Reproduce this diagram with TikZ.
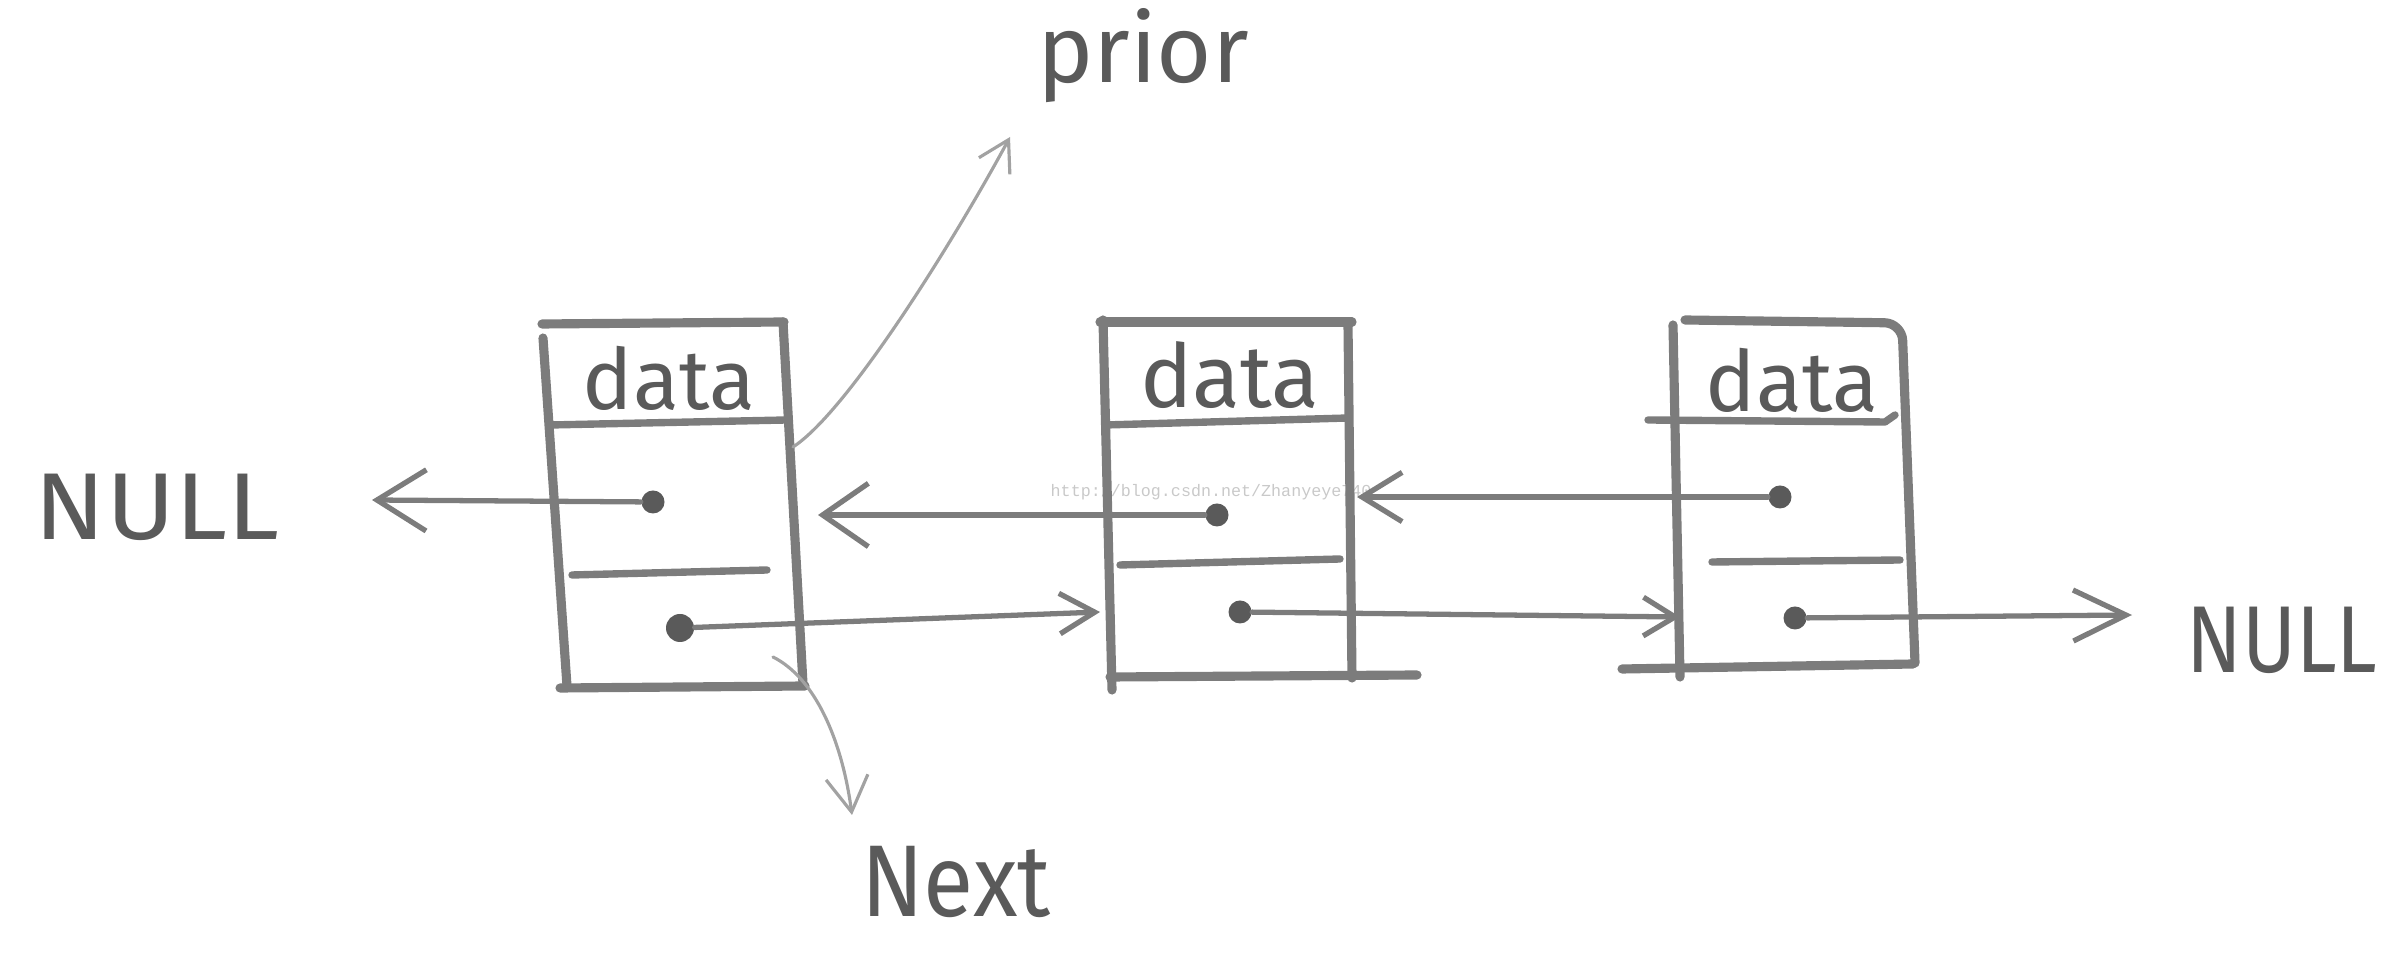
\documentclass[tikz,border=0pt]{standalone}
\usepackage{fontspec}
\setmainfont{Fira Sans}
\setmonofont{Liberation Mono}
\usetikzlibrary{arrows.meta}
\definecolor{pencil}{HTML}{7C7C7C}
\definecolor{pencildark}{HTML}{5A5A5A}
\definecolor{pencillight}{HTML}{A2A2A2}
\definecolor{wm}{HTML}{C9C9C9}
\begin{document}
\begin{tikzpicture}[x=0.01cm,y=-0.01cm,
  boxline/.style={pencil, line width=2.6pt, line cap=round, line join=round},
  divline/.style={pencil, line width=2.1pt, line cap=round, line join=round},
  dot/.style={circle, fill=pencildark, inner sep=0pt, minimum size=0.23cm},
  bigdot/.style={dot, minimum size=0.28cm},
  link/.style={pencil, line width=1.5pt, line cap=round, line join=round},
  thinlink/.style={pencillight, line width=0.9pt, line cap=round, line join=round},
  handtext/.style={text=pencildark, inner sep=0pt},
  ]
\useasboundingbox (0,0) rectangle (2400,962);

% watermark
\node[font=\ttfamily\fontsize{4.75}{5}\selectfont, text=wm, anchor=west, inner sep=0pt] (wmark) at (1050,492) {http://blog.csdn.net/Zhanyeye740};

% box 1
\draw[boxline] (542,324) -- (784,322);
\draw[boxline] (543,338) -- (567,686);
\draw[boxline] (783,322) -- (803,684);
\draw[boxline] (560,688) -- (805,686);
\draw[divline] (550,425) -- (786,420);
\draw[divline] (572,575) -- (767,570);

% box 2
\draw[boxline] (1100,322) -- (1352,322);
\draw[boxline] (1103,320) -- (1112,690);
\draw[boxline] (1348,325) -- (1352,678);
\draw[boxline] (1110,677) -- (1417,675);
\draw[divline] (1105,425) -- (1348,418);
\draw[divline] (1120,565) -- (1340,559);

% box 3
\draw[boxline, rounded corners=5pt] (1685,320) -- (1902,323) -- (1915,663);
\draw[boxline] (1673,325) -- (1680,677);
\draw[boxline] (1622,669) -- (1913,664);
\draw[divline] (1648,420) -- (1885,422) -- (1895,415);
\draw[divline] (1712,562) -- (1900,560);

% data labels
\node[handtext, font=\fontsize{24}{26}\selectfont, anchor=base] (data1) at (669,410) {data};
\node[handtext, font=\fontsize{25}{27}\selectfont, anchor=base] (data2) at (1230,408) {data};
\node[handtext, font=\fontsize{24}{26}\selectfont, anchor=base] (data3) at (1792,412) {data};

% pointer dots
\node[dot] (b1p) at (653,502) {};
\node[bigdot] (b1n) at (680,628) {};
\node[dot] (b2p) at (1217,515) {};
\node[dot] (b2n) at (1240,612) {};
\node[dot] (b3p) at (1780,497) {};
\node[dot] (b3n) at (1795,618) {};

% arrow end points
\coordinate (tL) at (372,500);
\coordinate (t21) at (818,515);
\coordinate (t12) at (1100,612);
\coordinate (t32) at (1357,497);
\coordinate (t23) at (1680,617);
\coordinate (tR) at (2132,615);

% labels
\node[handtext, font=\fontsize{27}{28}\selectfont, xscale=1.1] (nullL) at (157,507) {NULL};
\node[handtext, font=\fontsize{27}{28}\selectfont, xscale=0.86] (nullR) at (2282,640) {NULL};
\node[handtext, font=\fontsize{29}{30}\selectfont, xscale=0.9] (next) at (956,882) {Next};
\node[handtext, font=\fontsize{27}{28}\selectfont, anchor=base] (prior) at (1143,83) {prior};

% links
\draw[link, -{Straight Barb[length=14pt,width=17.4pt]}] (b1p) -- (tL);
\draw[link, -{Straight Barb[length=13pt,width=18pt]}] (b2p) -- (t21);
\draw[link, -{Straight Barb[length=10pt,width=11.5pt]}] (b1n) -- (t12);
\draw[link, -{Straight Barb[length=11.4pt,width=14pt]}] (b3p) -- (t32);
\draw[link, -{Straight Barb[length=9pt,width=11pt]}] (b2n) -- (t23);
\draw[link, -{Straight Barb[length=15pt,width=14.5pt]}] (b3n) -- (tR);

% prior / next callouts
\coordinate (pstart) at (793,447);
\coordinate (ptip) at (1010,137);
\draw[thinlink, -{Straight Barb[length=8.5pt,width=10pt]}] (pstart) .. controls (850,410) and (960,230) .. (ptip);
\coordinate (nstart) at (773,657);
\coordinate (ntip) at (852,815);
\draw[thinlink, -{Straight Barb[length=10pt,width=12pt]}] (nstart) .. controls (815,678) and (842,740) .. (ntip);
\end{tikzpicture}
\end{document}
